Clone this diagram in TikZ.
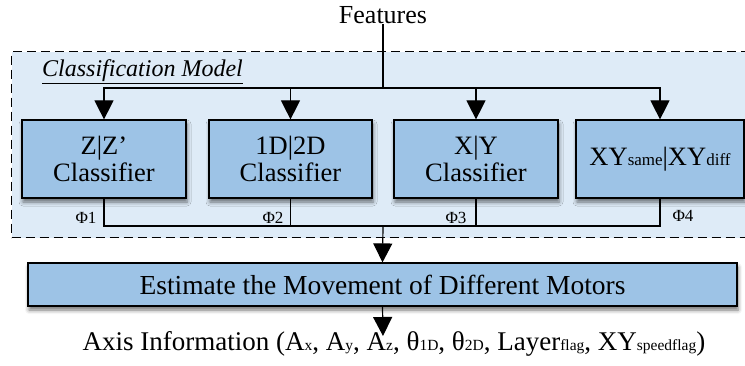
\documentclass[tikz,border=0pt]{standalone}
\usepackage{fontspec}
\setmainfont{Liberation Serif}
\usetikzlibrary{arrows.meta,shadows.blur}
\definecolor{boxblue}{RGB}{157,195,230}
\definecolor{panelblue}{RGB}{222,235,247}
% small baseline-level index text
\newcommand{\sm}[1]{{\fontsize{17}{17}\selectfont #1}}
\newcommand{\smx}[1]{{\fontsize{15.5}{16}\selectfont #1}}

\begin{document}
\begin{tikzpicture}[x=1pt,y=-1pt,
  txt/.style={font=\fontsize{26}{27}\selectfont, inner sep=0pt},
  clsbox/.style={draw=black, line width=1.2pt, fill=boxblue, minimum height=78pt,
    inner sep=0pt, align=center, font=\fontsize{26.5}{27}\selectfont,
    blur shadow={shadow xshift=1pt, shadow yshift=-4pt, shadow blur radius=4pt, shadow opacity=55}},
  wire/.style={line width=1.2pt},
  arr/.style={wire, -{Triangle[width=19pt,length=19pt]}},
  philbl/.style={font=\fontsize{17}{17}\selectfont, inner sep=0pt}
]
\useasboundingbox (0,0) rectangle (745,366);

% dashed panel holding the classifiers
\node[draw, line width=1.1pt, dash pattern=on 9pt off 5pt, fill=panelblue,
      minimum width=745pt, minimum height=186pt, anchor=north west, inner sep=0pt]
      (panel) at (11,51) {};
\node[font=\fontsize{24}{24}\selectfont\itshape, anchor=west, inner sep=0pt]
      (cm) at (42,72) {\underline{Classification Model}};

% input
\node[txt] (feat) at (383,15) {Features};

% classifiers
\node[clsbox, minimum width=164pt] (zc) at (104,159) {Z|Z’\\Classifier};
\node[clsbox, minimum width=163pt] (dc) at (290.5,159) {1D|2D\\Classifier};
\node[clsbox, minimum width=164pt] (xy) at (476,159) {X|Y\\Classifier};
\node[clsbox, minimum width=168pt] (sd) at (660,159) {XY\sm{same}|XY\sm{diff}};

% fan-out of the features
\coordinate (fork) at (383,88);
\draw[wire] (feat.south) -- (fork);
\draw[arr] (fork) -| (zc.north);
\draw[arr] (fork) -| (sd.north);
\draw[arr] (dc.north |- fork) -- (dc.north);
\draw[arr] (xy.north |- fork) -- (xy.north);

% outputs of the classifiers
\coordinate (join) at (383,226);
\draw[wire] (zc.south) |- (sd.south |- join) -- (sd.south);
\draw[wire] (dc.south) -- (dc.south |- join);
\draw[wire] (xy.south) -- (xy.south |- join);
\node[philbl] (p1) at (86,218) {Φ1};
\node[philbl] (p2) at (273,218) {Φ2};
\node[philbl] (p3) at (456,218) {Φ3};
\node[philbl] (p4) at (683,216) {Φ4};

% motor estimation
\node[clsbox, minimum width=709pt, minimum height=43pt, font=\fontsize{27.5}{28}\selectfont]
      (est) at (382.5,284.5) {Estimate the Movement of Different Motors};
\draw[arr] (join) -- (est.north);

\node[txt, font=\fontsize{27}{28}\selectfont] (axis) at (394,344)
  {Axis Information (A\smx{x}, A\smx{y}, A\smx{z}, θ\smx{1D}, θ\smx{2D}, Layer\smx{flag}, XY\smx{speedflag})};
\coordinate (axtip) at (383,336);
\draw[arr] (est.south) -- (axtip);
\end{tikzpicture}
\end{document}
